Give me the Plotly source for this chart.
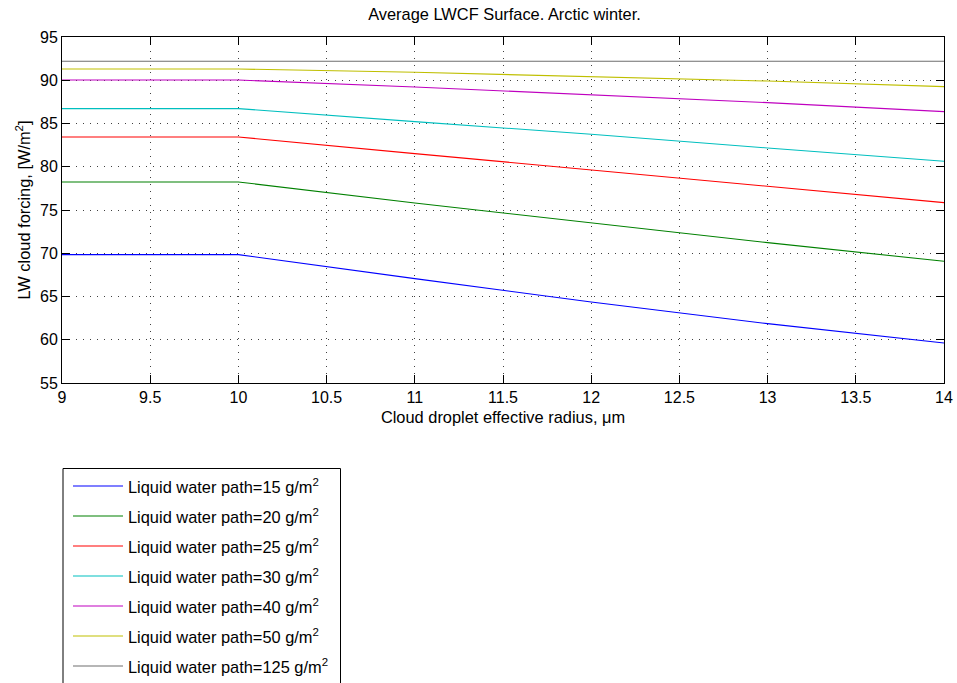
import plotly.graph_objects as go

# Cloud droplet effective radius (um)
radius = [9, 10, 11, 12, 13, 14]

# LW cloud forcing at the surface (W/m^2) for each liquid water path
lwp15 = [69.84, 69.84, 67.07, 64.36, 61.86, 59.62]
lwp20 = [78.24, 78.24, 75.81, 73.50, 71.23, 69.07]
lwp25 = [83.44, 83.44, 81.52, 79.62, 77.70, 75.85]
lwp30 = [86.72, 86.72, 85.22, 83.75, 82.17, 80.63]
lwp40 = [90.03, 90.03, 89.22, 88.34, 87.41, 86.37]
lwp50 = [91.30, 91.30, 90.92, 90.42, 89.91, 89.26]
lwp125 = [92.20, 92.20, 92.20, 92.20, 92.20, 92.20]

series = [lwp15, lwp20, lwp25, lwp30, lwp40, lwp50, lwp125]
lwp_values = [15, 20, 25, 30, 40, 50, 125]
labels = [f"Liquid water path={v} g/m<sup>2</sup>" for v in lwp_values]
colors = ["#0000ff", "#008000", "#ff0000", "#00bfbf", "#bf00bf", "#bfbf00", "#6e6e6e"]

x_ticks = [9, 9.5, 10, 10.5, 11, 11.5, 12, 12.5, 13, 13.5, 14]
y_ticks = [55, 60, 65, 70, 75, 80, 85, 90, 95]

W, H = 957, 683
L, R, T, B = 62, 13, 37, 300
FONT = "Liberation Sans, Arial, Helvetica, sans-serif"
FS_TICK = 16
FS_TEXT = 16.4

fig = go.Figure()
for ys, lab, col in zip(series, labels, colors):
    fig.add_trace(go.Scatter(x=radius, y=ys, mode="lines", name=lab,
                             line=dict(color=col, width=1.1), showlegend=False))

axis_common = dict(
    showline=True, linecolor="black", linewidth=1, mirror="ticks",
    ticks="inside", ticklen=8, tickcolor="black", tickwidth=1,
    showgrid=True, gridcolor="rgba(0,0,0,0.75)", gridwidth=1, griddash="1px,6px",
    zeroline=False, tickfont=dict(family=FONT, size=FS_TICK, color="black"),
    automargin=False, ticklabeloverflow="allow",
)

fig.update_xaxes(range=[9, 14], tickvals=x_ticks, ticktext=[f"{v:g}" for v in x_ticks],
                 title=dict(text="Cloud droplet effective radius, \u03bcm",
                            font=dict(family=FONT, size=FS_TEXT, color="black"), standoff=6),
                 **axis_common)
fig.update_yaxes(range=[55, 95], tickvals=y_ticks, ticktext=[str(v) for v in y_ticks],
                 title=dict(text="LW cloud forcing, [W/m<sup>2</sup>]",
                            font=dict(family=FONT, size=FS_TEXT, color="black"), standoff=5),
                 **axis_common)

# Legend drawn below the axes, in pixel positions converted to paper coordinates
plot_w = W - L - R
plot_h = H - T - B


def px_x(p):
    return (p - L) / plot_w


def px_y(p):
    return (H - B - p) / plot_h


shapes = [dict(type="rect", xref="paper", yref="paper",
               x0=px_x(63), x1=px_x(340.5), y0=px_y(468.5), y1=px_y(700),
               line=dict(color="black", width=1), fillcolor="white", layer="below")]
annotations = []
row0, step = 486, 30
for i, (lab, col) in enumerate(zip(labels, colors)):
    yy = row0 + i * step
    shapes.append(dict(type="line", xref="paper", yref="paper",
                       x0=px_x(73), x1=px_x(123), y0=px_y(yy), y1=px_y(yy),
                       line=dict(color=col, width=1.1)))
    annotations.append(dict(xref="paper", yref="paper", x=px_x(126), y=px_y(yy - 0.5),
                            text=lab, showarrow=False, xanchor="left", yanchor="middle",
                            font=dict(family=FONT, size=FS_TEXT, color="black")))

fig.update_layout(
    width=W, height=H,
    margin=dict(l=L, r=R, t=T, b=B, pad=0),
    paper_bgcolor="white", plot_bgcolor="white",
    title=dict(text="Average LWCF Surface. Arctic winter.", x=504.5 / W, xanchor="center",
               y=1 - 14.5 / H, yanchor="middle", yref="container",
               font=dict(family=FONT, size=FS_TEXT, color="black")),
    shapes=shapes, annotations=annotations,
    showlegend=False,
)

fig.write_html("out.html")
